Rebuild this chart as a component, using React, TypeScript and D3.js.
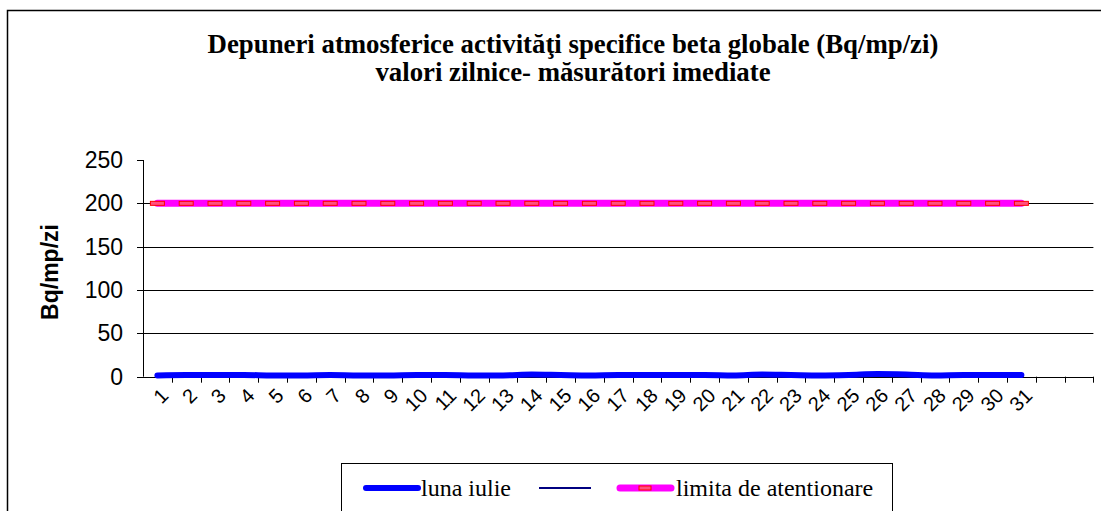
import React from "react";
import * as d3 from "d3";

const days: string[] = Array.from({ length: 31 }, (_, i) => String(i + 1));
const categories: string[] = [...days, "", ""];
const lunaIulie: number[] = [1.5, 2, 2, 2, 1.5, 1.5, 2, 1.5, 1.5, 2, 2, 1.5, 1.5, 2.5, 2, 1.5, 2, 2, 2, 2, 1.5, 2.5, 2, 1.5, 2, 3, 2.5, 1.5, 2, 2, 2];
const limita: number[] = days.map(() => 200);
const yTicks: number[] = [0, 50, 100, 150, 200, 250];
const gridValues: number[] = [50, 100, 150, 200];

const SERIF = "Liberation Serif";
const SANS = "Liberation Sans";

export default function App() {
  const W = 1101, H = 511;
  const left = 143, right = 1093.4, top = 160, bottom = 376.7;
  const x = d3.scaleBand<string>().domain(categories.map((c, i) => String(i))).range([left, right]);
  const y = d3.scaleLinear().domain([0, 250]).range([bottom, top]);
  const cx = (i: number) => (x(String(i)) as number) + x.bandwidth() / 2;
  const line = d3.line<number>().x((_, i) => cx(i)).y((v) => y(v)).curve(d3.curveMonotoneX);
  const bw = x.bandwidth();
  return (
    <svg width={W} height={H} style={{ position: "absolute", left: 0, top: 0 }}>
      <rect x={0} y={0} width={W} height={H} fill="#fff" />
      <path d={`M7.5,${H} V10.5 H${W}`} fill="none" stroke="#000" strokeWidth={1.5} />
      <text x={573} y={53} textAnchor="middle" fontFamily={SERIF} fontWeight="bold" fontSize={26.8}>
        Depuneri atmosferice activităţi specifice beta globale (Bq/mp/zi)
      </text>
      <text x={573} y={81} textAnchor="middle" fontFamily={SERIF} fontWeight="bold" fontSize={26.8}>
        valori zilnice- măsurători imediate
      </text>
      {gridValues.map((v) => (
        <line key={v} x1={left} x2={right} y1={Math.round(y(v)) + 0.5} y2={Math.round(y(v)) + 0.5} stroke="#000" strokeWidth={1} />
      ))}
      <line x1={left + 0.5} x2={left + 0.5} y1={top} y2={bottom} stroke="#000" />
      <line x1={left} x2={right} y1={Math.round(bottom) + 0.5} y2={Math.round(bottom) + 0.5} stroke="#000" />
      {yTicks.map((v) => (
        <g key={v}>
          <line x1={137} x2={left} y1={Math.round(y(v)) + 0.5} y2={Math.round(y(v)) + 0.5} stroke="#000" />
          <text x={123} y={y(v) + 8} textAnchor="end" fontFamily={SANS} fontSize={23}>{v}</text>
        </g>
      ))}
      {categories.map((c, i) => (
        <line key={"t" + i} x1={Math.round((x(String(i)) as number) + bw) + 0.5} x2={Math.round((x(String(i)) as number) + bw) + 0.5} y1={bottom} y2={bottom + 6} stroke="#000" />
      ))}
      {days.map((d, i) => (
        <text key={"l" + i} transform={`translate(${cx(i) + 2},${bottom + 10}) rotate(-45)`} textAnchor="end" dominantBaseline="hanging" fontFamily={SANS} fontSize={20}>{d}</text>
      ))}
      <text transform={`translate(52,272) rotate(-90)`} textAnchor="middle" dominantBaseline="middle" fontFamily={SANS} fontWeight="bold" fontSize={23}>Bq/mp/zi</text>
      <path d={line(limita) as string} fill="none" stroke="#ff00ff" strokeWidth={7} strokeLinecap="round" />
      {limita.map((v, i) => (
        <rect key={"m" + i} x={cx(i) - 7} y={y(v) - 2} width={14} height={4} fill="#ff5080" stroke="#ff0000" strokeWidth={1} />
      ))}
      <path d={line(lunaIulie) as string} fill="none" stroke="#0000ff" strokeWidth={6} strokeLinecap="round" />
      <rect x={341.5} y={463.5} width={551} height={60} fill="#fff" stroke="#000" strokeWidth={1} />
      <line x1={366} x2={418} y1={488} y2={488} stroke="#0000ff" strokeWidth={6} strokeLinecap="round" />
      <text x={421} y={496} fontFamily={SERIF} fontSize={24}>luna iulie</text>
      <line x1={539} x2={591} y1={488} y2={488} stroke="#000080" strokeWidth={2} />
      <line x1={620} x2={671} y1={488} y2={488} stroke="#ff00ff" strokeWidth={7} strokeLinecap="round" />
      <rect x={639} y={486} width={12} height={4} fill="#ff5080" stroke="#ff0000" strokeWidth={1} />
      <text x={676} y={496} fontFamily={SERIF} fontSize={24}>limita de atentionare</text>
    </svg>
  );
}
